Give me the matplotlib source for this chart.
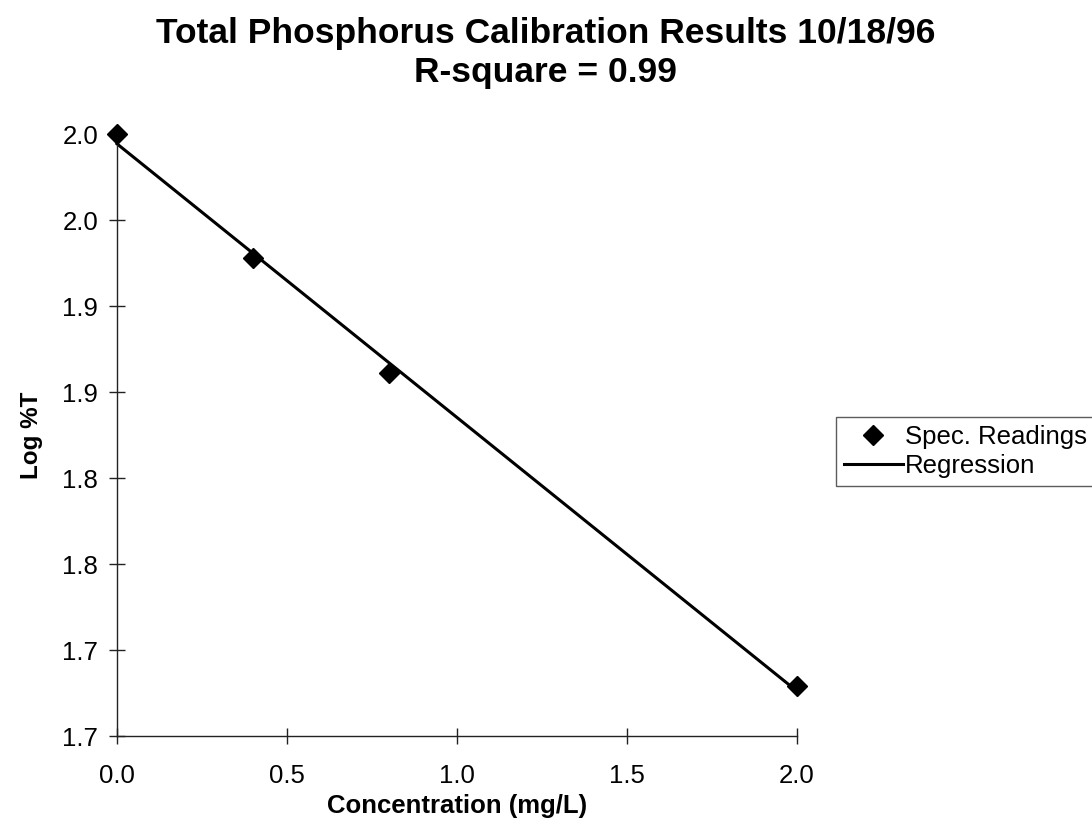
import numpy as np
import matplotlib
matplotlib.use("Agg")
import matplotlib.pyplot as plt
from matplotlib.ticker import FixedLocator, FixedFormatter, FormatStrFormatter

plt.rcParams['font.family'] = ['Liberation Sans', 'DejaVu Sans']

# Calibration standards and spectrophotometer readings
concentration = [0.0, 0.4, 0.8, 2.0]          # mg/L
log_transmittance = [2.000, 1.928, 1.861, 1.679]

x_ticks = [0.0, 0.5, 1.0, 1.5, 2.0]
y_ticks = [1.65, 1.70, 1.75, 1.80, 1.85, 1.90, 1.95, 2.00]
# one-decimal labels, rounded half up
y_tick_labels = ["1.7", "1.7", "1.8", "1.8", "1.9", "1.9", "2.0", "2.0"]

title_text = "Total Phosphorus Calibration Results 10/18/96\nR-square = 0.99"

# Least-squares regression line through the standards
slope, intercept = np.polyfit(concentration, log_transmittance, 1)
fit_x = np.array([min(concentration), max(concentration)])
fit_y = slope * fit_x + intercept

fig = plt.figure(figsize=(10.92, 8.33), dpi=100)
ax = fig.add_axes([117 / 1092, 1 - 736 / 833, (797 - 117) / 1092, (736 - 134) / 833])

ax.plot(fit_x, fit_y, color='black', lw=2.2, label='Regression', zorder=2, clip_on=False)
ax.plot(concentration, log_transmittance, linestyle='none', marker='D', ms=10,
        color='black', label='Spec. Readings', zorder=3, clip_on=False)

ax.set_xlim(0, 2.0)
ax.set_ylim(1.65, 2.0)
ax.xaxis.set_major_locator(FixedLocator(x_ticks))
ax.yaxis.set_major_locator(FixedLocator(y_ticks))
ax.xaxis.set_major_formatter(FormatStrFormatter('%.1f'))
ax.yaxis.set_major_formatter(FixedFormatter(y_tick_labels))

for side in ('top', 'right'):
    ax.spines[side].set_visible(False)
for side in ('left', 'bottom'):
    ax.spines[side].set_linewidth(1.0)
    ax.spines[side].set_color('#222222')

ax.tick_params(direction='inout', length=11, width=1.0, labelsize=18.5,
               colors='#222222', labelcolor='black')
ax.tick_params(axis='x', pad=15)
ax.tick_params(axis='y', pad=8)

ax.set_xlabel('Concentration (mg/L)', fontsize=18.5, fontweight='bold', labelpad=4)
ax.set_ylabel('Log %T', fontsize=17.5, fontweight='bold', labelpad=14)

fig.text(546 / 1092, 1 - 53 / 833, title_text, ha='center', va='center',
         fontsize=25.5, fontweight='bold', linespacing=1.22)

handles, labels = ax.get_legend_handles_labels()
leg = fig.legend(handles[::-1], labels[::-1], loc='upper left',
                 bbox_to_anchor=(836 / 1092, 1 - 417 / 833),
                 fontsize=18.5, frameon=True, fancybox=False, borderpad=0.3,
                 handlelength=2.3, handletextpad=0.1, labelspacing=0.2,
                 borderaxespad=0)
leg.get_frame().set_edgecolor('#333333')
leg.get_frame().set_linewidth(1.0)

fig.savefig('out.png', dpi=100)
